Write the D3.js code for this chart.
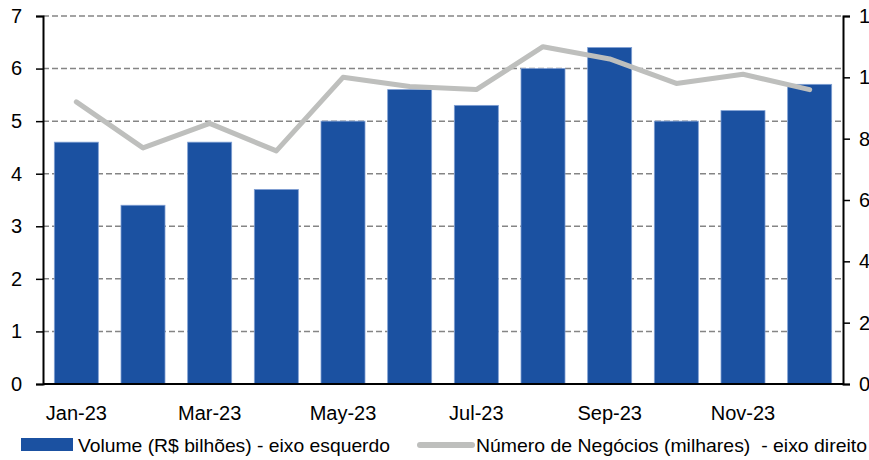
<!DOCTYPE html>
<html>
<head>
<meta charset="utf-8">
<script src="https://cdn.jsdelivr.net/npm/d3@7"></script>
<style>
  body { margin: 0; background: #fff; }
  svg text { font-family: "Liberation Sans", Arial, sans-serif; fill: #000; }
</style>
</head>
<body>
<div id="chart"></div>
<script>
var months = ["Jan-23", "Feb-23", "Mar-23", "Apr-23", "May-23", "Jun-23",
              "Jul-23", "Aug-23", "Sep-23", "Oct-23", "Nov-23", "Dec-23"];
var volume = [4.6, 3.4, 4.6, 3.7, 5.0, 5.6, 5.3, 6.0, 6.4, 5.0, 5.2, 5.7];
var negocios = [9.2, 7.7, 8.5, 7.6, 10.0, 9.7, 9.6, 11.0, 10.6, 9.8, 10.1, 9.6];
var leftTicks = [0, 1, 2, 3, 4, 5, 6, 7];
var rightTicks = [0, 2, 4, 6, 8, 10, 12];
var shownMonths = ["Jan-23", "Mar-23", "May-23", "Jul-23", "Sep-23", "Nov-23"];

var W = 869, H = 460;
var margin = { top: 16, right: 26, bottom: 76, left: 43 },
    width = W - margin.left - margin.right,
    height = H - margin.top - margin.bottom;

var svg = d3.select("#chart").append("svg")
    .attr("width", W).attr("height", H);
var g = svg.append("g")
    .attr("transform", "translate(" + margin.left + "," + margin.top + ")");

var x = d3.scaleBand().domain(months).range([0, width]).paddingInner(0.34).paddingOuter(0.17);
var y = d3.scaleLinear().domain([0, 7]).range([height, 0]);
var y2 = d3.scaleLinear().domain([0, 12]).range([height, 0]);

// dashed gridlines
g.selectAll(".grid").data(leftTicks.filter(function (d) { return d > 0; }))
  .enter().append("line")
    .attr("x1", 0).attr("x2", width)
    .attr("y1", function (d) { return y(d); }).attr("y2", function (d) { return y(d); })
    .attr("stroke", "#858585").attr("stroke-width", 1.5)
    .attr("stroke-dasharray", "6,3");

// bars
g.selectAll(".bar").data(volume)
  .enter().append("rect")
    .attr("x", function (d, i) { return x(months[i]); })
    .attr("y", function (d) { return y(d); })
    .attr("width", x.bandwidth())
    .attr("height", function (d) { return height - y(d); })
    .attr("fill", "#1b51a1")
    .attr("stroke", "#7f9fd3").attr("stroke-width", 0.8);

// line
var line = d3.line()
    .x(function (d, i) { return x(months[i]) + x.bandwidth() / 2; })
    .y(function (d) { return y2(d); });
g.append("path").datum(negocios)
    .attr("d", line)
    .attr("fill", "none")
    .attr("stroke", "#bebfbd").attr("stroke-width", 5)
    .attr("stroke-linecap", "round").attr("stroke-linejoin", "round");

// left axis
var ax = g.append("g")
    .call(d3.axisLeft(y).tickValues(leftTicks).tickSize(7).tickPadding(14).tickFormat(d3.format("d")));
ax.select(".domain").attr("stroke", "#000").attr("stroke-width", 2);
ax.selectAll(".tick line").attr("stroke", "#000").attr("stroke-width", 1.5);
ax.selectAll("text").style("font-size", "20px");

// right axis (labels run off the edge like the original)
var ax2 = g.append("g").attr("transform", "translate(" + width + ",0)")
    .call(d3.axisRight(y2).tickValues(rightTicks).tickSize(7).tickPadding(9).tickFormat(d3.format("d")));
ax2.select(".domain").attr("stroke", "#000").attr("stroke-width", 2);
ax2.selectAll(".tick line").attr("stroke", "#000").attr("stroke-width", 1.5);
ax2.selectAll("text").style("font-size", "20px");

// bottom axis
var axB = g.append("g").attr("transform", "translate(0," + height + ")")
    .call(d3.axisBottom(x).tickSize(0).tickPadding(22)
      .tickFormat(function (d) { return shownMonths.indexOf(d) >= 0 ? d : ""; }));
axB.select(".domain").attr("stroke", "#000").attr("stroke-width", 2)
    .attr("d", "M0,0H" + width);
axB.selectAll("text").style("font-size", "20px");

// legend
var lg = svg.append("g").attr("transform", "translate(0,445)");
lg.append("rect").attr("x", 21).attr("y", -7).attr("width", 52).attr("height", 13).attr("fill", "#1b51a1");
lg.append("text").attr("x", 78).attr("y", 7).style("font-size", "19px")
    .attr("textLength", 312).attr("lengthAdjust", "spacingAndGlyphs")
    .text("Volume (R$ bilhões) - eixo esquerdo");
lg.append("line").attr("x1", 420).attr("x2", 472).attr("y1", 0).attr("y2", 0)
    .attr("stroke", "#bebfbd").attr("stroke-width", 6).attr("stroke-linecap", "round");
lg.append("text").attr("x", 476).attr("y", 7).style("font-size", "19px")
    .attr("xml:space", "preserve")
    .attr("textLength", 391).attr("lengthAdjust", "spacingAndGlyphs")
    .text("Número de Negócios (milhares)  - eixo direito");
</script>
</body>
</html>
